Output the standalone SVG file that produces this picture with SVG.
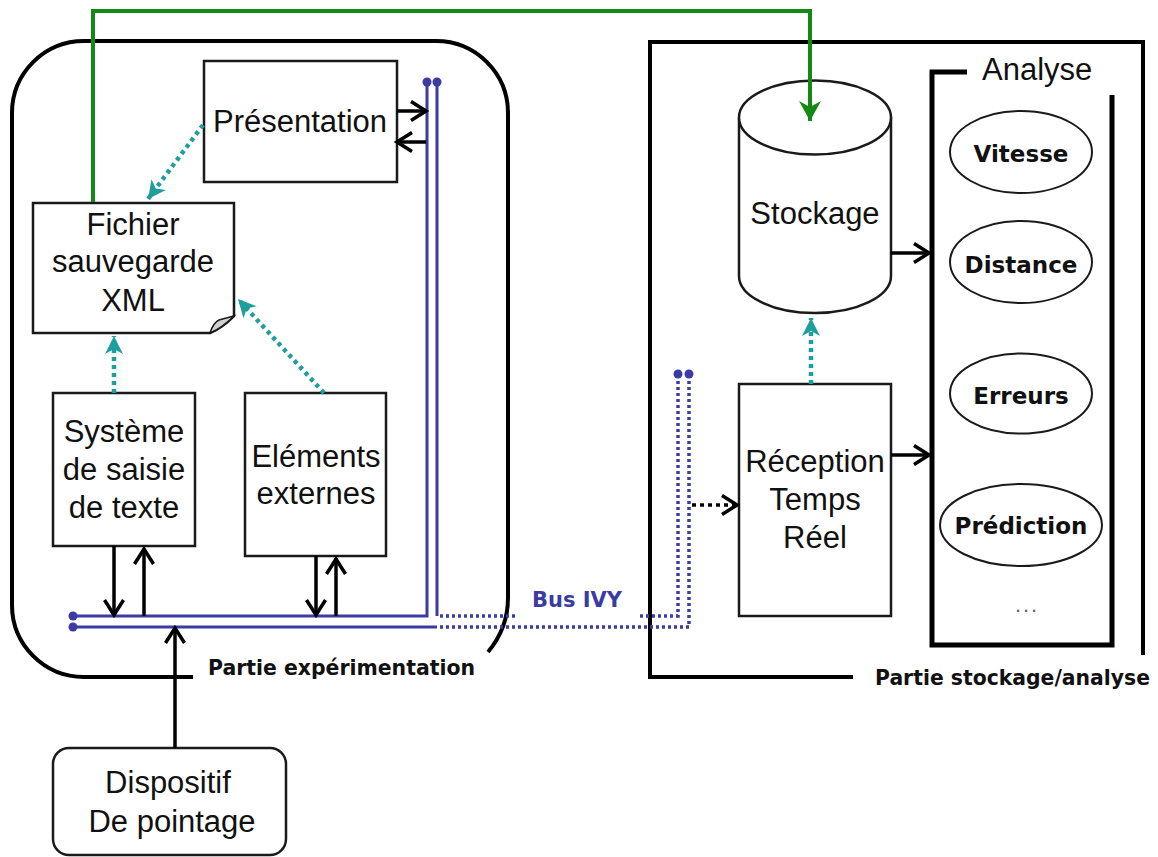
<svg xmlns="http://www.w3.org/2000/svg" width="1158" height="857" viewBox="0 0 1158 857">
<style>
.box{fill:#fff;stroke:#1a1a1a;stroke-width:2.5}
.t{font-family:"Liberation Sans",Arial,sans-serif;font-size:31px;fill:#111;text-anchor:middle}
.b{font-family:"DejaVu Sans",Verdana,sans-serif;font-weight:bold;fill:#111}
.bus{fill:none;stroke:#3b3ba3;stroke-width:3}
.busd{fill:none;stroke:#3b3ba3;stroke-width:3.5;stroke-dasharray:3 3}
.dot{fill:#3b3ba3}
.arr{fill:none;stroke:#000;stroke-width:3.5;marker-end:url(#ah)}
.teal{fill:none;stroke:#1f9e9e;stroke-width:4.5;stroke-dasharray:4 4;marker-end:url(#th)}
.frame{fill:none;stroke:#000;stroke-width:4}
</style>
<defs>
<marker id="ah" markerUnits="userSpaceOnUse" markerWidth="24" markerHeight="24" viewBox="0 0 24 24" refX="21" refY="12" orient="auto">
<path d="M6,2.5 L21,12 L6,21.5" fill="none" stroke="#000" stroke-width="3.5"/>
</marker>
<marker id="th" markerUnits="userSpaceOnUse" markerWidth="24" markerHeight="24" viewBox="0 0 24 24" refX="20" refY="12" orient="auto">
<path d="M2,3 L20,12 L2,21 L7,12 Z" fill="#1f9e9e" stroke="none"/>
</marker>
<marker id="gh" markerUnits="userSpaceOnUse" markerWidth="28" markerHeight="28" viewBox="0 0 28 28" refX="24" refY="14" orient="auto">
<path d="M4,3 L24,14 L4,25 L10,14 Z" fill="#138a13" stroke="none"/>
</marker>
</defs>
<rect width="1158" height="857" fill="#fff"/>

<g id="partie-experimentation">
<path class="frame" d="M193,677 L84,677 A72,72 0 0 1 12,605 L12,113 A72,72 0 0 1 84,41 L436,41 A72,72 0 0 1 508,113 L508,598 Q508,628 488,652"/>
<text class="b" x="208" y="675" font-size="20.5" textLength="267" lengthAdjust="spacingAndGlyphs">Partie expérimentation</text>
</g>

<g id="partie-stockage">
<path class="frame" d="M1143,655 L1143,42 L650,42 L650,677 L853,677"/>
<text class="b" x="875" y="685" font-size="20.5" textLength="275" lengthAdjust="spacingAndGlyphs">Partie stockage/analyse</text>
</g>

<g id="analyse">
<path fill="none" stroke="#000" stroke-width="5" d="M967,72 L932,72 L932,645 L1112,645 L1112,95"/>
<text class="t" x="982" y="80" style="text-anchor:start">Analyse</text>
</g>

<g id="presentation">
<rect class="box" x="204" y="61" width="193" height="121"/>
<text class="t" x="300" y="132">Présentation</text>
</g>

<g id="fichier">
<path class="box" d="M33,203 L234,203 L234,316 Q222,328 210,333 L33,333 Z"/>
<path d="M210,333 Q213,323 219,320 Q226,318 234,316 Q222,328 210,333 Z" fill="#d0d0d0" stroke="#1a1a1a" stroke-width="1.5"/>
<text class="t" x="133" y="235">Fichier</text>
<text class="t" x="133" y="272">sauvegarde</text>
<text class="t" x="133" y="311">XML</text>
</g>

<g id="systeme">
<rect class="box" x="53" y="393" width="142" height="153"/>
<text class="t" x="124" y="442">Système</text>
<text class="t" x="124" y="480">de saisie</text>
<text class="t" x="124" y="518">de texte</text>
</g>

<g id="elements">
<rect class="box" x="245" y="393" width="141" height="163"/>
<text class="t" x="316" y="467">Eléments</text>
<text class="t" x="316" y="504">externes</text>
</g>

<g id="dispositif">
<rect class="box" x="53" y="748" width="233" height="107" rx="16"/>
<text class="t" x="168" y="793">Dispositif</text>
<text class="t" x="172" y="832">De pointage</text>
</g>

<g id="stockage">
<path class="box" d="M739,117.5 L739,276 A76,37 0 0 0 891,276 L891,117.5"/>
<ellipse class="box" cx="815" cy="117.5" rx="76" ry="37"/>
<text class="t" x="815" y="224">Stockage</text>
</g>

<g id="reception">
<rect class="box" x="739" y="384" width="152" height="232"/>
<text class="t" x="815" y="472">Réception</text>
<text class="t" x="815" y="510">Temps</text>
<text class="t" x="815" y="548">Réel</text>
</g>

<g id="vitesse">
<ellipse class="box" cx="1021" cy="152" rx="71" ry="41" style="stroke-width:2"/>
<text class="b" x="1021" y="162" font-size="23" text-anchor="middle">Vitesse</text>
</g>
<g id="distance">
<ellipse class="box" cx="1021" cy="262" rx="71" ry="41" style="stroke-width:2"/>
<text class="b" x="1021" y="273" font-size="23" text-anchor="middle">Distance</text>
</g>
<g id="erreurs">
<ellipse class="box" cx="1021" cy="393.5" rx="71" ry="40" style="stroke-width:2"/>
<text class="b" x="1021" y="404" font-size="23" text-anchor="middle">Erreurs</text>
</g>
<g id="prediction">
<ellipse class="box" cx="1021" cy="525" rx="81" ry="41" style="stroke-width:2"/>
<text class="b" x="1021" y="534" font-size="23" text-anchor="middle">Prédiction</text>
</g>
<g id="etc">
<text x="1026" y="612" font-family="Liberation Sans, Arial, sans-serif" font-size="22" fill="#666" text-anchor="middle" textLength="22" lengthAdjust="spacing">...</text>
</g>

<g id="bus-ivy">
<path class="bus" d="M73,616 L427,616 L427,82"/>
<path class="bus" d="M437,82 L437,616"/>
<path class="bus" d="M73,627 L437,627"/>
<path class="busd" d="M440,616 L515,616"/>
<path class="busd" d="M640,616 L678,616 L678,374"/>
<path class="busd" d="M440,627 L689,627 L689,374"/>
<circle class="dot" cx="73" cy="616" r="4.5"/>
<circle class="dot" cx="73" cy="627" r="4.5"/>
<circle class="dot" cx="427" cy="82" r="4.5"/>
<circle class="dot" cx="437" cy="82" r="4.5"/>
<circle class="dot" cx="678" cy="374" r="4.5"/>
<circle class="dot" cx="689" cy="374" r="4.5"/>
<text class="b" x="532" y="607" font-size="22" style="fill:#3b3ba3" textLength="90" lengthAdjust="spacingAndGlyphs">Bus IVY</text>
</g>

<g id="connectors">
<path d="M93,202 L93,11 L810,11 L810,121" fill="none" stroke="#138a13" stroke-width="4" marker-end="url(#gh)"/>
<path class="arr" d="M397,111 L426,111"/>
<path class="arr" d="M426,142 L397,142"/>
<path class="arr" d="M114,546 L114,615"/>
<path class="arr" d="M144,616 L144,549"/>
<path class="arr" d="M316,556 L316,615"/>
<path class="arr" d="M336,616 L336,559"/>
<path class="arr" d="M175,748 L175,628"/>
<path class="arr" d="M891,253 L929,253"/>
<path class="arr" d="M891,455 L929,455"/>
<path class="arr" d="M692,505 L737,505" style="stroke-dasharray:4 4"/>
<path class="teal" d="M203,125 L148,199"/>
<path class="teal" d="M114,393 L114,336"/>
<path class="teal" d="M324,393 L238,299"/>
<path class="teal" d="M811,384 L811,318"/>
</g>
</svg>
